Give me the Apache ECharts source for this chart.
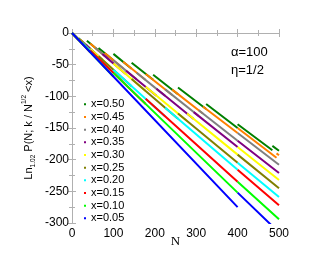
<!DOCTYPE html>
<html><head><meta charset="utf-8">
<script src="https://cdn.jsdelivr.net/npm/echarts@6.0.0/dist/echarts.min.js"></script>
<style>html,body{margin:0;padding:0;background:#fff}#c{width:311px;height:266px}</style>
</head><body><div id="c"></div>
<script>
// Series names (legend order)
const seriesNames = ['x=0.50','x=0.45','x=0.40','x=0.35','x=0.30','x=0.25','x=0.20','x=0.15','x=0.10','x=0.05'];
// Each series: straight pieces [N start, value start, N end, value end] (jumps between pieces)
const seg_x050 = [[0,0,4,-2.75],[4,-2.5,16,-10.1],[16,-8.4,36,-20.2],[36,-12.2,64,-27.8],[64,-23.6,100,-43],[100,-33,144,-56.3],[144,-46.9,196,-73.9],[196,-66,256,-96.6],[256,-86,324,-120],[324,-112,400,-150],[400,-144,484,-185.2],[484,-178.3,500,-186]];
const seg_x045 = [[0,0,5,-3.4],[5,-3.15,20,-12.6],[20,-10.8,44,-25],[44,-16.6,79,-36.2],[79,-31.7,123.5,-55.7],[123.5,-45.5,178,-74.3],[178,-64.6,242,-97.8],[242,-89.4,316,-127.2],[316,-116,400,-158],[400,-150,494,-197],[494,-190,500,-193]];
const seg_x040 = [[0,0,6,-4.3],[6,-3.9,25,-15.75],[25,-13.75,56,-32],[56,-23.4,100,-48],[100,-43,156,-73.2],[156,-62.7,225,-99.25],[225,-89,306,-131],[306,-122,400,-170],[400,-158,500,-208]];
const seg_x035 = [[0,0,8,-5.5],[8,-5,33,-20.8],[33,-18.5,73.5,-42.4],[73.5,-33.2,130.6,-65.1],[130.6,-59.5,204,-99.2],[204,-88.1,294,-135.8],[294,-124.9,400,-180],[400,-170,500,-221]];
const seg_x030 = [[0,0,11,-7.6],[11,-6.9,44,-27.7],[44,-25,100,-58],[100,-48,178,-91.7],[178,-85,278,-139],[278,-127,400,-192],[400,-180,500,-232]];
const seg_x025 = [[0,0,16,-11],[16,-10,64,-40.3],[64,-36.8,144,-84],[144,-72.6,256,-135.4],[256,-127,400,-205],[400,-192,500,-245]];
const seg_x020 = [[0,0,25,-17.2],[25,-15.75,100,-63],[100,-58,225,-131.75],[225,-118,400,-216],[400,-205,500,-259]];
const seg_x015 = [[0,0,44,-30.5],[44,-27.7,178,-112],[178,-104,400,-235],[400,-216,500,-272]];
const seg_x010 = [[0,0,100,-68.75],[100,-63,400,-252],[400,-235,500,-294]];
const seg_x005 = [[0,0,400,-275],[400,-252,500,-315]];
const allSegs = [seg_x050,seg_x045,seg_x040,seg_x035,seg_x030,seg_x025,seg_x020,seg_x015,seg_x010,seg_x005];
// Axis ranges / ticks
const xMin = 0, xMax = 500, xStep = 100;
const yMin = -300, yMax = 0, yStep = 50;
const annot1 = 'α=100', annot2 = 'η=1/2';

const colors = ['#008000','#ff8000','#808080','#800080','#ffff00','#808000','#00ffff','#ff0000','#00ff00','#0000ff'];

function toData(segs){
  const d = [];
  segs.forEach((s,i)=>{
    if(i>0) d.push([s[0], null]);
    d.push([s[0], s[1]]); d.push([s[2], s[3]]);
  });
  return d;
}

const frame = '#b0b0b0';
const tickCommon = {show:true, inside:true, length:4, lineStyle:{color:frame}};
const minorCommon = {show:true, splitNumber:2, length:3, lineStyle:{color:frame}};
const SANS = '"Liberation Sans", Arial, sans-serif';

const chart = echarts.init(document.getElementById('c'), null, {renderer:'canvas'});
chart.setOption({
  animation:false,
  backgroundColor:'#fff',
  grid:{left:72, top:33, width:207, height:190, containLabel:false},
  legend:{
    orient:'vertical', left:79, top:93, icon:'rect', itemWidth:2, itemHeight:2,
    itemGap:0, itemTextGap:10, data:seriesNames,
    textStyle:{fontFamily:SANS, fontSize:11, color:'#000', lineHeight:12.67}
  },
  xAxis:[{
    type:'value', min:xMin, max:xMax, interval:xStep,
    name:'N', nameLocation:'middle', nameGap:12, nameMoveOverlap:false,
    nameTextStyle:{fontFamily:'"Liberation Serif", "Times New Roman", serif', fontSize:13, color:'#000', verticalAlign:'top'},
    axisLine:{show:true, lineStyle:{color:frame}},
    axisTick:tickCommon, minorTick:minorCommon,
    axisLabel:{color:'#000', fontFamily:SANS, fontSize:12, margin:5},
    splitLine:{show:false}
  },{
    type:'value', min:xMin, max:xMax, interval:xStep, position:'top',
    axisLine:{show:true, lineStyle:{color:frame}},
    axisTick:tickCommon, minorTick:minorCommon, axisLabel:{show:false}, splitLine:{show:false}
  }],
  yAxis:[{
    type:'value', min:yMin, max:yMax, interval:yStep,
    name:'{a|Ln}{s|1.02}{a| P(N; k / N}{p|1/2}{a| <x)}',
    nameLocation:'middle', nameRotate:90, nameGap:35, nameMoveOverlap:false,
    nameTextStyle:{
      color:'#000',
      rich:{
        a:{fontFamily:SANS, fontSize:11, color:'#000', lineHeight:16, verticalAlign:'middle'},
        s:{fontFamily:SANS, fontSize:6.5, color:'#000', lineHeight:16, verticalAlign:'bottom'},
        p:{fontFamily:SANS, fontSize:6.5, color:'#000', lineHeight:16, verticalAlign:'top'}
      }
    },
    axisLine:{show:true, lineStyle:{color:frame}},
    axisTick:tickCommon, minorTick:minorCommon,
    axisLabel:{color:'#000', fontFamily:SANS, fontSize:12, margin:3},
    splitLine:{show:false}
  },{
    type:'value', min:yMin, max:yMax, interval:yStep, position:'right',
    axisLine:{show:true, lineStyle:{color:frame}},
    axisTick:tickCommon, minorTick:minorCommon, axisLabel:{show:false}, splitLine:{show:false}
  }],
  graphic:[
    {type:'text', left:231, top:46, style:{text:annot1, font:'13px "Liberation Sans", Arial', fill:'#000'}},
    {type:'text', left:231, top:64, style:{text:annot2, font:'13px "Liberation Sans", Arial', fill:'#000'}}
  ],
  series: seriesNames.map((nm,i)=>({
    name:nm, type:'line', data:toData(allSegs[i]), showSymbol:false, symbol:'none',
    connectNulls:false, clip:true, z: 2,
    itemStyle:{color:colors[i]}, lineStyle:{color:colors[i], width:2}
  }))
});
</script></body></html>
